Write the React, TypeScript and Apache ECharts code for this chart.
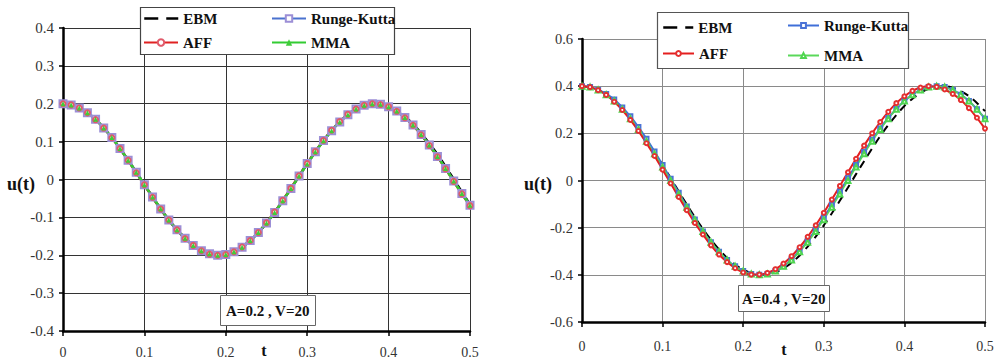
import React, { useEffect, useRef } from "react";
import * as echarts from "echarts";

const tValues = [
  0, 0.01, 0.02, 0.03, 0.04, 0.05, 0.06, 0.07, 0.08, 0.09,
  0.1, 0.11, 0.12, 0.13, 0.14, 0.15, 0.16, 0.17, 0.18, 0.19,
  0.2, 0.21, 0.22, 0.23, 0.24, 0.25, 0.26, 0.27, 0.28, 0.29,
  0.3, 0.31, 0.32, 0.33, 0.34, 0.35, 0.36, 0.37, 0.38, 0.39,
  0.4, 0.41, 0.42, 0.43, 0.44, 0.45, 0.46, 0.47, 0.48, 0.49, 0.5,
];

// Left panel: A=0.2, V=20
const leftEBM = [
  0.2, 0.197, 0.189, 0.176, 0.159, 0.136, 0.111, 0.082, 0.051, 0.019,
  -0.014, -0.046, -0.078, -0.107, -0.133, -0.155, -0.174, -0.188, -0.196, -0.2,
  -0.198, -0.191, -0.179, -0.161, -0.14, -0.115, -0.087, -0.056, -0.024, 0.009,
  0.042, 0.073, 0.103, 0.129, 0.152, 0.171, 0.186, 0.196, 0.2, 0.199,
  0.193, 0.183, 0.166, 0.146, 0.122, 0.095, 0.066, 0.034, 0.001, -0.033, -0.066,
];
const leftRK = [
  0.2, 0.197, 0.189, 0.176, 0.159, 0.136, 0.111, 0.082, 0.051, 0.019,
  -0.014, -0.046, -0.078, -0.107, -0.133, -0.155, -0.174, -0.188, -0.196, -0.2,
  -0.198, -0.191, -0.179, -0.161, -0.14, -0.115, -0.087, -0.056, -0.024, 0.009,
  0.042, 0.073, 0.103, 0.129, 0.152, 0.171, 0.186, 0.196, 0.2, 0.199,
  0.192, 0.181, 0.164, 0.144, 0.119, 0.091, 0.061, 0.029, -0.004, -0.037, -0.068,
];
const leftAFF = [
  0.2, 0.197, 0.189, 0.176, 0.158, 0.136, 0.11, 0.082, 0.051, 0.018,
  -0.014, -0.047, -0.078, -0.107, -0.133, -0.156, -0.174, -0.188, -0.197, -0.2,
  -0.198, -0.191, -0.178, -0.161, -0.14, -0.114, -0.086, -0.055, -0.023, 0.01,
  0.042, 0.074, 0.103, 0.13, 0.153, 0.172, 0.186, 0.196, 0.2, 0.198,
  0.192, 0.18, 0.163, 0.143, 0.118, 0.09, 0.06, 0.028, -0.005, -0.038, -0.069,
];
const leftMMA = [
  0.2, 0.197, 0.189, 0.176, 0.159, 0.136, 0.111, 0.082, 0.051, 0.019,
  -0.014, -0.046, -0.077, -0.107, -0.133, -0.155, -0.174, -0.188, -0.196, -0.2,
  -0.198, -0.191, -0.179, -0.161, -0.14, -0.115, -0.087, -0.056, -0.024, 0.009,
  0.041, 0.073, 0.102, 0.129, 0.152, 0.171, 0.186, 0.196, 0.2, 0.199,
  0.192, 0.181, 0.164, 0.144, 0.119, 0.091, 0.061, 0.029, -0.004, -0.037, -0.068,
];

// Right panel: A=0.4, V=20
const rightEBM = [
  0.4, 0.396, 0.384, 0.365, 0.338, 0.305, 0.266, 0.222, 0.173, 0.12,
  0.066, 0.01, -0.046, -0.102, -0.155, -0.205, -0.251, -0.292, -0.328, -0.357,
  -0.378, -0.393, -0.4, -0.398, -0.389, -0.373, -0.349, -0.318, -0.28, -0.238,
  -0.19, -0.139, -0.085, -0.03, 0.027, 0.082, 0.136, 0.188, 0.235, 0.278,
  0.316, 0.347, 0.372, 0.389, 0.398, 0.4, 0.393, 0.379, 0.358, 0.329, 0.294,
];
const rightRK = [
  0.4, 0.396, 0.384, 0.367, 0.343, 0.31, 0.272, 0.227, 0.177, 0.123,
  0.066, 0.007, -0.052, -0.11, -0.165, -0.216, -0.262, -0.302, -0.337, -0.364,
  -0.384, -0.396, -0.4, -0.396, -0.384, -0.364, -0.335, -0.298, -0.256, -0.208,
  -0.157, -0.103, -0.047, 0.01, 0.066, 0.121, 0.173, 0.221, 0.265, 0.303,
  0.337, 0.364, 0.384, 0.396, 0.4, 0.396, 0.384, 0.364, 0.337, 0.302, 0.262,
];
const rightAFF = [
  0.4, 0.396, 0.383, 0.363, 0.334, 0.299, 0.257, 0.21, 0.158, 0.104,
  0.046, -0.012, -0.07, -0.126, -0.18, -0.229, -0.275, -0.314, -0.346, -0.372,
  -0.39, -0.399, -0.399, -0.392, -0.376, -0.352, -0.321, -0.283, -0.239, -0.19,
  -0.137, -0.081, -0.023, 0.035, 0.092, 0.148, 0.2, 0.248, 0.291, 0.328,
  0.357, 0.38, 0.394, 0.4, 0.397, 0.386, 0.367, 0.341, 0.307, 0.266, 0.22,
];
const rightMMA = [
  0.4, 0.396, 0.384, 0.364, 0.337, 0.302, 0.262, 0.216, 0.166, 0.113,
  0.057, 0.0, -0.057, -0.113, -0.166, -0.216, -0.262, -0.302, -0.337, -0.364,
  -0.384, -0.396, -0.4, -0.396, -0.384, -0.364, -0.337, -0.302, -0.262, -0.216,
  -0.166, -0.113, -0.057, 0.0, 0.057, 0.113, 0.166, 0.216, 0.262, 0.302,
  0.337, 0.364, 0.384, 0.396, 0.4, 0.396, 0.384, 0.364, 0.337, 0.302, 0.262,
];

const xTicks = [0, 0.1, 0.2, 0.3, 0.4, 0.5];
const seriesNames = ["EBM", "Runge-Kutta", "AFF", "MMA"];
const leftNote = "A=0.2 , V=20";
const rightNote = "A=0.4 , V=20";
const yName = "u(t)";
const xName = "t";

const SERIF = "Liberation Serif";

const pairs = (arr: number[]) => tValues.map((t, i) => [t, arr[i]]);

export default function App() {
  const ref = useRef<HTMLDivElement>(null);

  useEffect(() => {
    if (!ref.current) return;
    const chart = echarts.init(ref.current, undefined, { renderer: "svg" });

    const xAxisBase = (gridIndex: number, labelMargin: number) => ({
      type: "value",
      gridIndex,
      min: xTicks[0],
      max: xTicks[xTicks.length - 1],
      interval: 0.1,
      axisLine: { show: true, onZero: false, lineStyle: { color: "#000", width: 2.5 } },
      axisTick: { show: true, length: 5, lineStyle: { color: "#000", width: 1.5 } },
      axisLabel: {
        fontFamily: SERIF,
        fontSize: 14,
        color: "#333",
        margin: labelMargin,
      },
      splitLine: {
        show: true,
        lineStyle: { color: gridIndex === 0 ? "#333" : "#8a8a8a", width: 1 },
      },
    });

    const yAxisBase = (gridIndex: number, min: number, max: number, interval: number, fs: number) => ({
      type: "value",
      gridIndex,
      min,
      max,
      interval,
      axisLine: { show: true, onZero: false, lineStyle: { color: "#000", width: 2.5 } },
      axisTick: { show: true, length: 4, lineStyle: { color: "#000", width: 1.5 } },
      axisLabel: {
        fontFamily: SERIF,
        fontSize: fs,
        color: "#333",
        margin: 9,
      },
      splitLine: {
        show: true,
        lineStyle: { color: gridIndex === 0 ? "#333" : "#8a8a8a", width: 1 },
      },
    });

    const legendItem = (
      name: string,
      left: number,
      top: number,
      itemWidth: number,
      itemHeight: number,
      dashed: boolean
    ) => {
      const base: any = {
        data: [name],
        left,
        top,
        orient: "horizontal",
        padding: 0,
        itemWidth,
        itemHeight,
        itemGap: 0,
        selectedMode: false,
        z: 6,
        formatter: (n: string) => n.replace(/^[LR]:/, ""),
        textStyle: {
          fontFamily: SERIF,
          fontWeight: "bold",
          fontSize: 15,
          color: "#111",
        },
      };
      if (dashed) {
        base.itemStyle = { opacity: 0 };
        base.lineStyle = { type: [14, 8], width: 2.5 };
      }
      return base;
    };

    const option: any = {
      animation: false,
      backgroundColor: "#fff",
      textStyle: { fontFamily: SERIF },
      title: [
        {
          text: leftNote,
          left: 220,
          top: 295,
          padding: [7, 6, 7, 6],
          borderColor: "#666",
          borderWidth: 1,
          backgroundColor: "#fff",
          z: 6,
          textStyle: { fontFamily: SERIF, fontWeight: "bold", fontSize: 15, color: "#111", lineHeight: 17 },
        },
        {
          text: rightNote,
          left: 738,
          top: 285,
          padding: [5, 4, 5, 4],
          borderColor: "#666",
          borderWidth: 1,
          backgroundColor: "#fff",
          z: 6,
          textStyle: { fontFamily: SERIF, fontWeight: "bold", fontSize: 15, color: "#111", lineHeight: 17 },
        },
      ],
      grid: [
        { left: 63, top: 28, width: 407, height: 304, containLabel: false },
        { left: 582, top: 39, width: 403, height: 283, containLabel: false },
      ],
      xAxis: [xAxisBase(0, 14), xAxisBase(1, 17)],
      yAxis: [yAxisBase(0, -0.4, 0.4, 0.1, 15), yAxisBase(1, -0.6, 0.6, 0.2, 14.5)],
      legend: [
        legendItem("L:" + seriesNames[0], 143, 11, 34, 8, true),
        legendItem("L:" + seriesNames[1], 271, 11, 34, 8, false),
        legendItem("L:" + seriesNames[2], 143, 35, 34, 8, false),
        legendItem("L:" + seriesNames[3], 271, 35, 34, 8, false),
        legendItem("R:" + seriesNames[0], 662, 20, 30, 6, true),
        legendItem("R:" + seriesNames[1], 787, 18, 31, 6, false),
        legendItem("R:" + seriesNames[2], 662, 46, 31, 6, false),
        legendItem("R:" + seriesNames[3], 787, 48, 31, 6, false),
      ],
      graphic: {
        elements: [
          {
            type: "rect",
            shape: { x: 140.5, y: 7.5, width: 254, height: 47 },
            style: { fill: "#fff", stroke: "#444", lineWidth: 1.2 },
            z: 5,
          },
          {
            type: "rect",
            shape: { x: 657.5, y: 12.5, width: 251, height: 56 },
            style: { fill: "#fff", stroke: "#555", lineWidth: 1.2 },
            z: 5,
          },
          {
            type: "text",
            x: 21,
            y: 184,
            style: { text: yName, font: `bold 18px ${SERIF}`, fill: "#111", align: "center", verticalAlign: "middle" },
            z: 6,
          },
          {
            type: "text",
            x: 538,
            y: 184,
            style: { text: yName, font: `bold 18px ${SERIF}`, fill: "#111", align: "center", verticalAlign: "middle" },
            z: 6,
          },
          {
            type: "text",
            x: 264,
            y: 350,
            style: { text: xName, font: `bold 16px ${SERIF}`, fill: "#111", align: "center", verticalAlign: "middle" },
            z: 6,
          },
          {
            type: "text",
            x: 784,
            y: 349,
            style: { text: xName, font: `bold 16px ${SERIF}`, fill: "#111", align: "center", verticalAlign: "middle" },
            z: 6,
          },
        ],
      },
      series: [
        // Left panel
        {
          name: "L:" + seriesNames[0],
          type: "line",
          xAxisIndex: 0,
          yAxisIndex: 0,
          data: pairs(leftEBM),
          symbol: "none",
          smooth: 0.3,
          color: "#000",
          lineStyle: { color: "#000", width: 2.5, type: [10, 5] },
        },
        {
          name: "L:" + seriesNames[1],
          type: "line",
          xAxisIndex: 0,
          yAxisIndex: 0,
          data: pairs(leftRK),
          symbol: "emptyRect",
          symbolSize: 7,
          smooth: 0.3,
          itemStyle: { color: "#9c8fd6", borderWidth: 1.2 },
          lineStyle: { color: "#4a72cf", width: 2.5 },
        },
        {
          name: "L:" + seriesNames[2],
          type: "line",
          xAxisIndex: 0,
          yAxisIndex: 0,
          data: pairs(leftAFF),
          symbol: "emptyCircle",
          symbolSize: 5,
          smooth: 0.3,
          itemStyle: { color: "#e05a6a", borderWidth: 1 },
          lineStyle: { color: "#e02222", width: 2.5 },
        },
        {
          name: "L:" + seriesNames[3],
          type: "line",
          xAxisIndex: 0,
          yAxisIndex: 0,
          data: pairs(leftMMA),
          symbol: "triangle",
          symbolSize: 5,
          smooth: 0.3,
          itemStyle: { color: "#40cc3a" },
          lineStyle: { color: "#33cc33", width: 2.5 },
        },
        // Right panel
        {
          name: "R:" + seriesNames[0],
          type: "line",
          xAxisIndex: 1,
          yAxisIndex: 1,
          data: pairs(rightEBM),
          symbol: "none",
          smooth: 0.3,
          color: "#000",
          lineStyle: { color: "#000", width: 2, type: [8, 6] },
        },
        {
          name: "R:" + seriesNames[1],
          type: "line",
          xAxisIndex: 1,
          yAxisIndex: 1,
          data: pairs(rightRK),
          symbol: "emptyRect",
          symbolSize: 4,
          smooth: 0.3,
          itemStyle: { color: "#4a72d6", borderWidth: 1 },
          lineStyle: { color: "#3f6fd8", width: 2 },
        },
        {
          name: "R:" + seriesNames[3],
          type: "line",
          xAxisIndex: 1,
          yAxisIndex: 1,
          data: pairs(rightMMA),
          symbol: "emptyTriangle",
          symbolSize: 5,
          smooth: 0.3,
          itemStyle: { color: "#4fd64f", borderWidth: 1 },
          lineStyle: { color: "#5ad85a", width: 1.5 },
        },
        {
          name: "R:" + seriesNames[2],
          type: "line",
          xAxisIndex: 1,
          yAxisIndex: 1,
          data: pairs(rightAFF),
          symbol: "emptyCircle",
          symbolSize: 4,
          smooth: 0.3,
          itemStyle: { color: "#e43030", borderWidth: 1 },
          lineStyle: { color: "#e41e1e", width: 2 },
        },
      ],
    };

    chart.setOption(option);
    return () => {
      chart.dispose();
    };
  }, []);

  return (
    <div
      ref={ref}
      style={{ position: "fixed", left: 0, top: 0, width: 1002, height: 359, background: "#fff" }}
    />
  );
}
